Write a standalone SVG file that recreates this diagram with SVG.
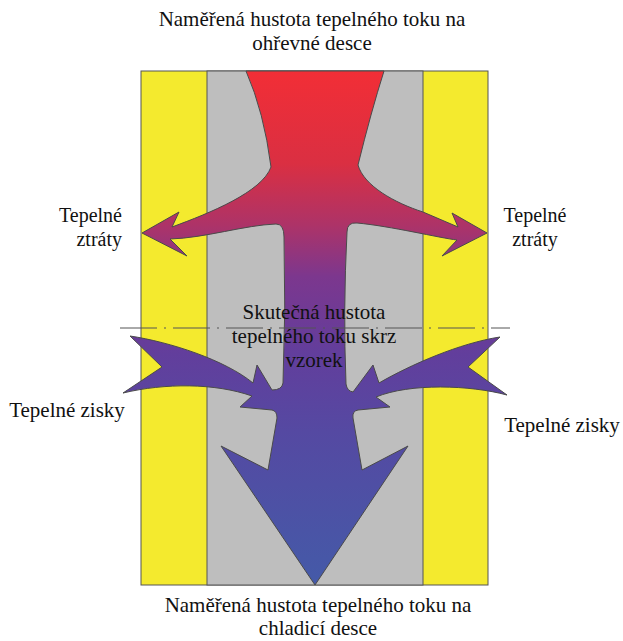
<svg xmlns="http://www.w3.org/2000/svg" width="623" height="641" viewBox="0 0 623 641">
<style>
text{font-family:'Liberation Serif','Times New Roman',Tinos,'DejaVu Serif',serif;font-size:21px;fill:#111}
.mid{font-size:20px}
.ln{stroke:#555;stroke-width:1}
</style>
<defs>
<linearGradient id="flowGrad" gradientUnits="userSpaceOnUse" x1="0" y1="71" x2="0" y2="585">
<stop offset="0" stop-color="#f22e36"/>
<stop offset="0.18" stop-color="#da2f42"/>
<stop offset="0.3" stop-color="#ad3368"/>
<stop offset="0.4" stop-color="#7c378e"/>
<stop offset="0.55" stop-color="#623e9c"/>
<stop offset="0.7" stop-color="#5549a2"/>
<stop offset="1" stop-color="#445aa8"/>
</linearGradient>
</defs>
<rect width="623" height="641" fill="#fff"/>
<g id="plates">
<rect x="141" y="71" width="347" height="514" fill="#f4ea2e" class="ln"/>
<rect x="207" y="71" width="216" height="514" fill="#bebebe" class="ln"/>
</g>
<g id="flow">
<path fill="url(#flowGrad)" stroke="#4a4a4a" stroke-width="1" d="M 246,71 L 384,71 Q 371,112 358,165 C 364,186 395,203 423,212 L 458,227 L 452,213 L 487,233 L 442,256 L 457,240 C 440,238 390,226 357,223 Q 347,222 347,232 Q 343,310 346,384 Q 347,391 353,392 L 373,365 L 379,383 C 410,365 460,343 500,337 L 468,367 L 507,395 C 470,385 410,383 376,397 L 390,407 L 358,410 Q 352,411 353,418 L 362,470 L 408,446 L 315,585 L 221,446 L 268,470 L 277,418 Q 277,411 272,410 L 240,407 L 252,396 C 215,383 165,383 123,393 L 162,367 L 130,336 C 170,342 225,360 253,383 L 257,365 L 272,390 Q 282,390 283,383 Q 286,310 284,237 Q 284,224 276,224 C 245,225 205,238 170,239 L 187,256 L 142,233 L 179,212 L 172,227 C 210,213 262,192 271,167 Q 264,112 246,71 Z"/>
</g>
<g id="connectors">
<line x1="120" y1="328" x2="510" y2="328" stroke="#555" stroke-width="1" stroke-dasharray="37 7 2 7"/>
</g>
<g id="label-top">
<text x="312" y="26" text-anchor="middle">Naměřená hustota tepelného toku na</text>
<text x="312" y="50" text-anchor="middle">ohřevné desce</text>
</g>
<g id="label-bottom">
<text x="318" y="612" text-anchor="middle">Naměřená hustota tepelného toku na</text>
<text x="318" y="635" text-anchor="middle">chladicí desce</text>
</g>
<g id="label-center">
<text x="314" y="319" text-anchor="middle">Skutečná hustota</text>
<text x="314" y="343" text-anchor="middle">tepelného toku skrz</text>
<text x="314" y="367" text-anchor="middle">vzorek</text>
</g>
<g id="label-loss-left">
<text class="mid" x="122" y="222" text-anchor="end">Tepelné</text>
<text class="mid" x="122" y="246" text-anchor="end">ztráty</text>
</g>
<g id="label-loss-right">
<text class="mid" x="535" y="222" text-anchor="middle">Tepelné</text>
<text class="mid" x="535" y="246" text-anchor="middle">ztráty</text>
</g>
<g id="label-gain-left">
<text x="67" y="417" text-anchor="middle">Tepelné zisky</text>
</g>
<g id="label-gain-right">
<text x="562" y="432" text-anchor="middle">Tepelné zisky</text>
</g>
</svg>
